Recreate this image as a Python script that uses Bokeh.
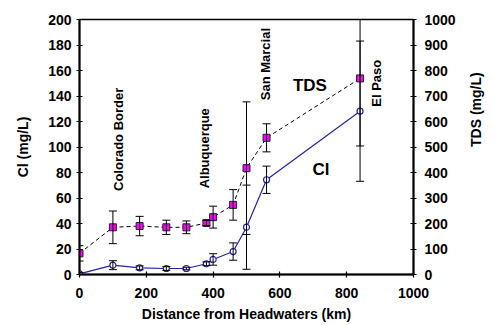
import math
from bokeh.plotting import figure
from bokeh.models import (ColumnDataSource, Range1d, LinearAxis, Whisker, TeeHead,
                          FixedTicker)
from bokeh.embed import file_html
from bokeh.resources import INLINE
from bokeh.core.properties import value

# ---- data ----
distance_km = [0, 100, 180, 260, 320, 380, 400, 460, 500, 560, 840]
cl_mg_l = [0.5, 7.3, 5.2, 4.7, 4.7, 8.4, 11.8, 18.0, 37.1, 74.3, 128.1]
cl_err = [1.0, 3.5, 1.5, 1.5, 1.0, 1.5, 4.5, 6.8, 33.0, 10.7, 55.0]
tds_mg_l = [83, 185, 190, 185, 185, 202, 225, 273, 417, 536, 769]
tds_err = [30, 64, 38, 28, 25, 10, 43, 60, 260, 55, 265]

x_ticks = [0, 200, 400, 600, 800, 1000]
cl_ticks = [0, 20, 40, 60, 80, 100, 120, 140, 160, 180, 200]
tds_ticks = [0, 100, 200, 300, 400, 500, 600, 700, 800, 900, 1000]

place_names = ["Colorado Border", "Albuquerque", "San Marcial", "El Paso"]
series_names = ["TDS", "Cl"]
x_title = "Distance from Headwaters (km)"
cl_title = "Cl (mg/L)"
tds_title = "TDS (mg/L)"

# ---- layout (annotation positions in data units) ----
place_x = [118, 374, 556, 890]
place_y = [106, 99, 165, 150]
series_x = [690, 723]
series_y = [148, 82]

FONT = "Liberation Sans"
BLUE = "#2323A0"

p = figure(width=494, height=325, x_range=Range1d(0, 1000), y_range=Range1d(0, 200),
           output_backend="svg", toolbar_location=None,
           min_border_left=79, min_border_right=81, min_border_top=19, min_border_bottom=51)
p.extra_y_ranges = {"tds": Range1d(0, 1000)}
p.add_layout(LinearAxis(y_range_name="tds", axis_label=tds_title), "right")

p.xaxis.axis_label = x_title
p.yaxis[0].axis_label = cl_title
p.xgrid.visible = False
p.ygrid.visible = False
p.outline_line_color = "black"
p.outline_line_width = 1.5
p.background_fill_color = "white"
p.border_fill_color = "white"

p.xaxis.ticker = FixedTicker(ticks=x_ticks)
p.yaxis[0].ticker = FixedTicker(ticks=cl_ticks)
p.yaxis[1].ticker = FixedTicker(ticks=tds_ticks)

for ax in p.axis:
    ax.axis_line_width = 2
    ax.axis_line_color = "black"
    ax.major_tick_in = 3
    ax.major_tick_out = 3
    ax.major_tick_line_width = 1.2
    ax.minor_tick_line_color = None
    ax.major_label_text_font = FONT
    ax.major_label_text_font_style = "bold"
    ax.major_label_text_font_size = "14px"
    ax.major_label_text_color = "black"
    ax.axis_label_text_font = FONT
    ax.axis_label_text_font_style = "bold"
    ax.axis_label_text_font_size = "14px"
    ax.axis_label_text_color = "black"

p.yaxis[0].major_label_standoff = 5
p.yaxis[0].axis_label_standoff = 14
p.yaxis[1].major_label_standoff = 8
p.yaxis[1].axis_label_standoff = 17
p.yaxis[1].axis_label_orientation = math.pi / 2
p.xaxis.major_label_standoff = 10
p.xaxis.axis_label_standoff = 5

src = ColumnDataSource(dict(
    x=distance_km, cl=cl_mg_l, tds=tds_mg_l,
    cl_lo=[c - e for c, e in zip(cl_mg_l, cl_err)],
    cl_hi=[c + e for c, e in zip(cl_mg_l, cl_err)],
    tds_lo=[t - e for t, e in zip(tds_mg_l, tds_err)],
    tds_hi=[t + e for t, e in zip(tds_mg_l, tds_err)],
))

p.add_layout(Whisker(source=src, base="x", upper="tds_hi", lower="tds_lo", y_range_name="tds",
                     line_color="black", line_width=1,
                     upper_head=TeeHead(size=8, line_color="black", line_width=1),
                     lower_head=TeeHead(size=8, line_color="black", line_width=1), level="glyph"))
p.add_layout(Whisker(source=src, base="x", upper="cl_hi", lower="cl_lo",
                     line_color="black", line_width=1,
                     upper_head=TeeHead(size=8, line_color="black", line_width=1),
                     lower_head=TeeHead(size=8, line_color="black", line_width=1), level="glyph"))

p.line("x", "tds", source=src, y_range_name="tds", line_color="black", line_dash="4 3", line_width=1)
p.line("x", "cl", source=src, line_color=BLUE, line_width=1.2)
p.scatter("x", "tds", source=src, y_range_name="tds", marker="square", size=7,
          fill_color="#FF00FF", line_color="#222222", line_width=1)
p.scatter("x", "cl", source=src, marker="circle", size=6,
          fill_color="white", line_color=BLUE, line_width=1.2)

p.text(x=place_x, y=place_y, text=place_names, angle=math.pi / 2,
       text_font=value(FONT), text_font_style="bold", text_font_size="13px",
       text_align="center", text_baseline="middle", text_color="black")
p.text(x=series_x, y=series_y, text=series_names,
       text_font=value(FONT), text_font_style="bold", text_font_size="17px",
       text_align="center", text_baseline="middle", text_color="black")

open("out.html", "w").write(file_html(p, INLINE))
